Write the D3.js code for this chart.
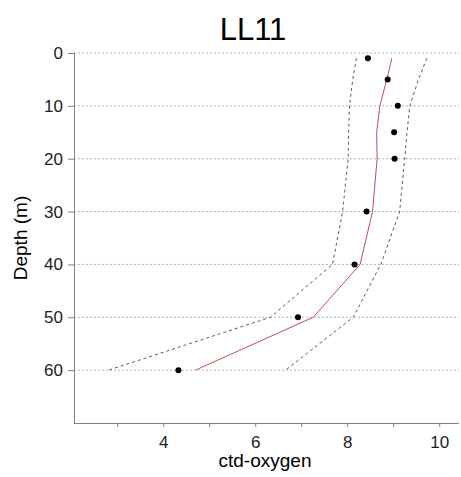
<!DOCTYPE html>
<html>
<head>
<meta charset="utf-8">
<script src="https://cdn.jsdelivr.net/npm/d3@7/dist/d3.min.js"></script>
<style>
  html, body { margin: 0; padding: 0; background: #fff; }
  svg { display: block; font-family: Arial, "Liberation Sans", sans-serif; }
</style>
</head>
<body>
<svg id="chart" width="461" height="477"></svg>
<script>
// ---- data ----
const title = "LL11";
const depths = [1, 5, 10, 15, 20, 30, 40, 50, 60];
const observed = [8.45, 8.88, 9.10, 9.02, 9.03, 8.42, 8.16, 6.93, 4.33];
const fitted = [8.97, 8.86, 8.71, 8.64, 8.65, 8.55, 8.28, 7.26, 4.70];
const lowerBound = [8.20, 8.12, 8.05, 8.03, 8.02, 7.90, 7.68, 6.33, 2.81];
const upperBound = [9.73, 9.55, 9.36, 9.30, 9.25, 9.14, 8.73, 8.13, 6.66];
const yTicks = [0, 10, 20, 30, 40, 50, 60];
const xTicks = [3, 4, 5, 6, 7, 8, 9, 10];
const xLabelTicks = [4, 6, 8, 10];

// ---- layout ----
const svg = d3.select("#chart");
const pLeft = 74, pRight = 459, pTop = 53, pBottom = 423;

const x = d3.scaleLinear().domain([2.06, 10.43]).range([pLeft, pRight]);
const y = d3.scaleLinear().domain([0, 70]).range([pTop, pBottom]);

// gridlines
svg.append("g").selectAll("line").data(yTicks).join("line")
  .attr("x1", pLeft).attr("x2", pRight)
  .attr("y1", d => y(d)).attr("y2", d => y(d))
  .attr("stroke", "#b4b4b4").attr("stroke-width", 1)
  .attr("stroke-dasharray", "2,2");

// axes
const xAxis = d3.axisBottom(x).tickValues(xTicks).tickSize(4)
  .tickFormat(d => xLabelTicks.includes(d) ? d : "");
const gx = svg.append("g").attr("transform", `translate(0,${pBottom})`).call(xAxis);
gx.select(".domain").attr("d", `M${pLeft},0.5H${pRight}`).attr("stroke", "#808080");
gx.selectAll(".tick line").attr("stroke", "#808080");
gx.selectAll(".tick text").attr("font-size", 17).attr("fill", "#222").attr("dy", "1.05em")
  .attr("font-family", "Arial, 'Liberation Sans', sans-serif");

const yAxis = d3.axisLeft(y).tickValues(yTicks).tickSize(6);
const gy = svg.append("g").attr("transform", `translate(${pLeft},0)`).call(yAxis);
gy.select(".domain").attr("d", `M0.5,${pTop}V${pBottom}`).attr("stroke", "#808080");
gy.selectAll(".tick line").attr("stroke", "#808080");
gy.selectAll(".tick text").attr("font-size", 17).attr("fill", "#222").attr("x", -11)
  .attr("font-family", "Arial, 'Liberation Sans', sans-serif");

// lines
const mk = vals => d3.line().x((d, i) => x(vals[i])).y(d => y(d));
svg.append("path").datum(depths).attr("d", mk(lowerBound)).attr("fill", "none")
  .attr("stroke", "#4d5890").attr("stroke-width", 1).attr("stroke-dasharray", "3,3");
svg.append("path").datum(depths).attr("d", mk(upperBound)).attr("fill", "none")
  .attr("stroke", "#4d5890").attr("stroke-width", 1).attr("stroke-dasharray", "3,3");
svg.append("path").datum(depths).attr("d", mk(fitted)).attr("fill", "none")
  .attr("stroke", "#c0504d").attr("stroke-width", 1);

// points
svg.append("g").selectAll("circle").data(depths).join("circle")
  .attr("cx", (d, i) => x(observed[i])).attr("cy", d => y(d))
  .attr("r", 3).attr("fill", "#000");

// title and labels
svg.append("text").attr("x", 253).attr("y", 40).attr("text-anchor", "middle")
  .attr("font-size", 31).attr("fill", "#000").text(title);
svg.append("text").attr("x", 265).attr("y", 467).attr("text-anchor", "middle")
  .attr("font-size", 19).attr("fill", "#000").text("ctd-oxygen");
svg.append("text").attr("transform", `translate(27,238) rotate(-90)`)
  .attr("text-anchor", "middle").attr("font-size", 19).attr("fill", "#000").text("Depth (m)");
</script>
</body>
</html>
